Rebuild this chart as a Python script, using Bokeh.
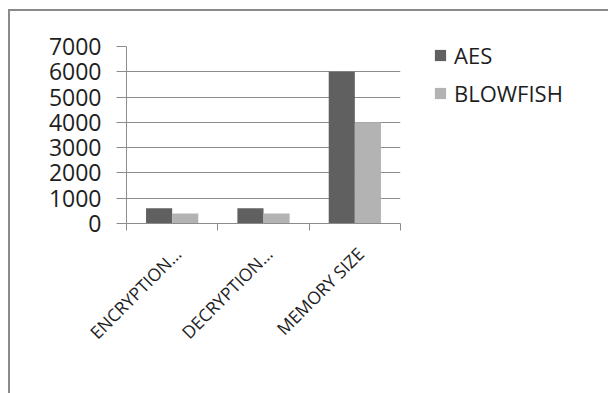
from math import pi
from bokeh.plotting import figure
from bokeh.models import (ColumnDataSource, Range1d, FixedTicker, Legend, LegendItem)
from bokeh.transform import dodge
from bokeh.embed import file_html
from bokeh.resources import INLINE

categories = ["ENCRYPTION…", "DECRYPTION…", "MEMORY SIZE"]
aes = [600, 600, 6000]
blowfish = [400, 400, 4000]
y_ticks = [0, 1000, 2000, 3000, 4000, 5000, 6000, 7000]
series_names = ["AES", "BLOWFISH"]

FONT = "Open Sans"
GRID = "#8c8c8c"
TEXT = "#1e1e1e"

centers = [i + 0.5 for i in range(len(categories))]
bounds = [float(i) for i in range(len(categories) + 1)]
label_pos = [c + 0.06 for c in centers]
src = ColumnDataSource(dict(x=centers, aes=aes, blowfish=blowfish))

OX, OY = 10, 11  # canvas offset inside the outer frame lines
p = figure(frame_width=274, frame_height=177, output_backend="svg", toolbar_location=None,
           x_range=Range1d(0, len(categories)), y_range=Range1d(0, y_ticks[-1]),
           min_border_left=126 - OX, min_border_right=208, min_border_top=46 - OY,
           min_border_bottom=170)
p.margin = (OY - 2, 0, 0, OX - 2)
p.styles = {"border-top": "2px solid #8a8a8a", "border-left": "2px solid #8a8a8a"}
p.outline_line_color = None
p.background_fill_color = "white"
p.border_fill_color = "white"

bw = 0.286
r1 = p.vbar(x=dodge("x", -bw / 2), top="aes", width=bw, source=src,
            fill_color="#606060", line_color=None)
r2 = p.vbar(x=dodge("x", bw / 2), top="blowfish", width=bw, source=src,
            fill_color="#b3b3b3", line_color=None)

# y axis
p.yaxis.ticker = FixedTicker(ticks=y_ticks)
p.yaxis.axis_line_color = GRID
p.yaxis.major_tick_line_color = GRID
p.yaxis.major_tick_out = 10
p.yaxis.major_tick_in = 0
p.yaxis.minor_tick_line_color = None
p.yaxis.major_label_standoff = 15
p.yaxis.major_label_text_font = FONT
p.yaxis.major_label_text_font_size = "23px"
p.yaxis.major_label_text_color = TEXT

# x axis
p.xaxis.ticker = FixedTicker(ticks=label_pos, minor_ticks=bounds)
p.xaxis.major_label_overrides = {c: lab for c, lab in zip(label_pos, categories)}
p.xaxis.axis_line_color = GRID
p.xaxis.major_tick_line_color = None
p.xaxis.minor_tick_line_color = GRID
p.xaxis.minor_tick_out = 7
p.xaxis.minor_tick_in = 0
p.xaxis.major_label_orientation = pi / 4
p.xaxis.major_label_standoff = 20
p.xaxis.major_label_text_font = FONT
p.xaxis.major_label_text_font_size = "17.5px"
p.xaxis.major_label_text_color = TEXT

p.xgrid.grid_line_color = None
p.ygrid.grid_line_color = GRID
p.ygrid.grid_line_width = 1

legend = Legend(items=[LegendItem(label=series_names[0], renderers=[r1]),
                       LegendItem(label=series_names[1], renderers=[r2])],
                location=(33, 115), margin=0, padding=0, spacing=8,
                glyph_width=14, glyph_height=14, label_standoff=7,
                label_text_font=FONT, label_text_font_size="22px",
                label_text_color=TEXT, border_line_color=None,
                background_fill_alpha=0)
p.add_layout(legend, "right")

open("out.html", "w").write(file_html(p, INLINE))
